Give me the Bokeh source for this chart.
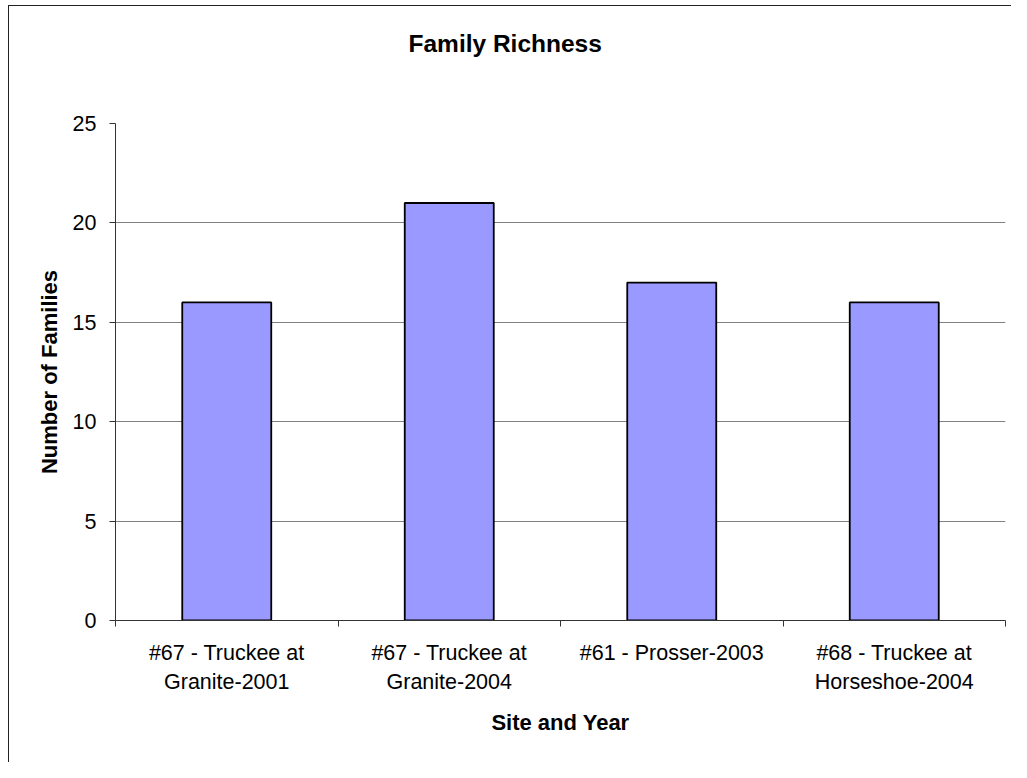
from bokeh.plotting import figure
from bokeh.layouts import column
from bokeh.models import FixedTicker, Range1d, ColumnDataSource, Title
from bokeh.embed import file_html
from bokeh.resources import INLINE

# ---- data ----
sites = [
    "#67 - Truckee at\nGranite-2001",
    "#67 - Truckee at\nGranite-2004",
    "#61 - Prosser-2003",
    "#68 - Truckee at\nHorseshoe-2004",
]
families = [16, 21, 17, 16]
y_ticks = [0, 5, 10, 15, 20, 25]
chart_title = "Family Richness"

FONT = "Liberation Sans"

n = len(sites)
centers = [i + 0.5 for i in range(n)]
src = ColumnDataSource(dict(x=centers, top=families))

p = figure(
    width=1002, height=756,
    x_range=Range1d(0, n), y_range=Range1d(y_ticks[0], y_ticks[-1]),
    output_backend="svg", toolbar_location=None,
    min_border_left=106, min_border_top=117, min_border_right=6, min_border_bottom=142,
)
p.background_fill_color = "white"
p.border_fill_color = "white"
p.outline_line_color = None

p.vbar(x="x", top="top", width=0.4, bottom=0, source=src,
       fill_color="#9999FF", line_color="black", line_width=1.8)

# spacing between the frame and the title
p.add_layout(Title(text=" ", text_font_size="1px", standoff=64), "above")
# title
p.add_layout(Title(text=chart_title, text_font=FONT, text_font_size="24.5px",
                   text_font_style="bold", text_color="black", align="left",
                   vertical_align="bottom", offset=293, standoff=0), "above")

# x axis
xa = p.xaxis[0]
xa.ticker = FixedTicker(ticks=centers, minor_ticks=list(range(n + 1)))
xa.major_label_overrides = {c: s for c, s in zip(centers, sites)}
xa.major_tick_out = 0
xa.major_tick_in = 0
xa.minor_tick_out = 6
xa.minor_tick_in = 0
xa.minor_tick_line_color = "#333333"
xa.axis_line_color = "#333333"
xa.major_label_text_font = FONT
xa.major_label_text_font_size = "21.5px"
xa.major_label_text_color = "black"
xa.major_label_text_line_height = 1.22
xa.major_label_standoff = 14
xa.axis_label = "Site and Year"
xa.axis_label_text_font = FONT
xa.axis_label_text_font_size = "22px"
xa.axis_label_text_font_style = "bold"
xa.axis_label_text_color = "black"
xa.axis_label_standoff = 13

# y axis
ya = p.yaxis[0]
ya.ticker = FixedTicker(ticks=y_ticks)
ya.major_tick_out = 6
ya.major_tick_in = 0
ya.minor_tick_out = 0
ya.minor_tick_in = 0
ya.major_tick_line_color = "#333333"
ya.axis_line_color = "#333333"
ya.major_label_text_font = FONT
ya.major_label_text_font_size = "21.5px"
ya.major_label_text_color = "black"
ya.major_label_standoff = 13
ya.axis_label = "Number of Families"
ya.axis_label_text_font = FONT
ya.axis_label_text_font_size = "22px"
ya.axis_label_text_font_style = "bold"
ya.axis_label_text_color = "black"
ya.axis_label_standoff = 8

p.xgrid.grid_line_color = None
p.ygrid.grid_line_color = "#808080"
p.ygrid.grid_line_width = 1

# chart-area border: only its left and top edges fall inside the picture
page = column(p, margin=(5, 0, 0, 8),
              styles={"border-left": "1px solid #222", "border-top": "1px solid #222"})

open("out.html", "w").write(file_html(page, INLINE))
